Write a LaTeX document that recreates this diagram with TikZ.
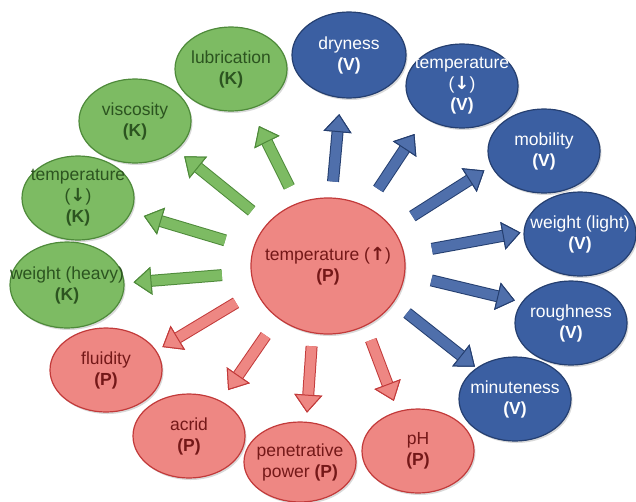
\documentclass[tikz,border=0pt]{standalone}
\usepackage{fontspec}
\setmainfont{Liberation Sans}
\newfontfamily\arrowfont{DejaVu Sans}
\usetikzlibrary{shapes.geometric,arrows.meta,shadows}

\definecolor{kfill}{HTML}{7DBB63}
\definecolor{kline}{HTML}{4E8A3A}
\definecolor{ktext}{HTML}{2C5420}
\definecolor{vfill}{HTML}{3B5FA2}
\definecolor{vline}{HTML}{253F70}
\definecolor{pfill}{HTML}{EE8783}
\definecolor{pline}{HTML}{C23A3A}
\definecolor{ptext}{HTML}{741818}

\newcommand{\down}{{\arrowfont\bfseries\fontsize{18}{21}\selectfont ↓}}
\newcommand{\up}{{\arrowfont\bfseries\fontsize{18}{21}\selectfont ↑}}

\tikzset{
  oval/.style={ellipse, inner sep=0pt, minimum width=112pt, minimum height=84pt,
    line width=1.2pt, drop shadow={shadow xshift=1.5pt, shadow yshift=-2pt, opacity=0.3}},
  kbox/.style={oval, fill=kfill, draw=kline, label={[text=ktext, align=center]center:#1}},
  vbox/.style={oval, fill=vfill, draw=vline, label={[text=white, align=center]center:#1}},
  pbox/.style={oval, fill=pfill, draw=pline, label={[text=ptext, align=center]center:#1}},
  blockarrow/.style 2 args={line width=10pt, draw=#1,
    -{Triangle[width=28pt, length=18pt, line width=1pt, fill=#1, color=#2]},
    preaction={draw=#2, line width=12pt,
      -{Triangle[width=28pt, length=18pt, line width=1pt, fill=#1, color=#2]}}},
  karrow/.style={blockarrow={kfill}{kline}},
  varrow/.style={blockarrow={vfill!90!white}{vline}},
  parrow/.style={blockarrow={pfill}{pline}}
}

\begin{document}
\begin{tikzpicture}[x=1pt, y=-1pt, font=\fontsize{17.5}{21}\selectfont]
\useasboundingbox (0,0) rectangle (636,501);

% centre
\node[pbox={temperature (\up)\\\textbf{(P)}}, minimum width=154pt, minimum height=136pt] (c) at (328,266) {};

% K group
\node[kbox={lubrication\\\textbf{(K)}}] (lub) at (231,69) {};
\node[kbox={viscosity\\\textbf{(K)}}] (visc) at (135,121) {};
\node[kbox={temperature\\(\down)\\\textbf{(K)}}] (tempK) at (78,198) {};
\node[kbox={weight (heavy)\\\textbf{(K)}}, minimum width=114pt, minimum height=86pt] (heavy) at (67,285) {};

% P group
\node[pbox={fluidity\\\textbf{(P)}}] (fluid) at (106,370) {};
\node[pbox={acrid\\\textbf{(P)}}] (acrid) at (189,436) {};
\node[pbox={penetrative\\power \textbf{(P)}}, minimum height=80pt] (pen) at (300,462) {};
\node[pbox={pH\\\textbf{(P)}}] (ph) at (418,451) {};

% V group
\node[vbox={dryness\\\textbf{(V)}}, minimum width=114pt, minimum height=86pt] (dry) at (349,55) {};
\node[vbox={temperature\\(\down)\\\textbf{(V)}}] (tempV) at (462,86) {};
\node[vbox={mobility\\\textbf{(V)}}] (mob) at (544,151) {};
\node[vbox={weight (light)\\\textbf{(V)}}] (light) at (580,234) {};
\node[vbox={roughness\\\textbf{(V)}}] (rough) at (571,323) {};
\node[vbox={minuteness\\\textbf{(V)}}] (minute) at (515,399) {};

% arrows
\draw[karrow, shorten <=18pt, shorten >=19pt] (c.116) -- (lub.-64);
\draw[karrow, shorten <=20pt, shorten >=10pt] (c.145) -- (visc.-35);
\draw[karrow, shorten <=29pt, shorten >=13pt] (c.167) -- (tempK.-15);
\draw[karrow, shorten <=29pt, shorten >=9pt] (c.185) -- (heavy.2);

\draw[parrow, shorten <=23pt, shorten >=7pt] (c.199) -- (fluid.21);
\draw[parrow, shorten <=21pt, shorten >=13pt] (c.226) -- (acrid.48);
\draw[parrow, shorten <=13pt, shorten >=9pt] (c.257) -- (pen.81);
\draw[parrow, shorten <=15pt, shorten >=11pt] (c.302) -- (ph.117);

\draw[varrow, shorten <=16pt, shorten >=16pt] (c.87) -- (dry.259);
\draw[varrow, shorten <=21pt, shorten >=19pt] (c.57) -- (tempV.221);
\draw[varrow, shorten <=23pt, shorten >=8pt] (c.30) -- (mob.196);
\draw[varrow, shorten <=28pt, shorten >=3pt] (c.9) -- (light.178);
\draw[varrow, shorten <=27pt, shorten >=7pt] (c.-6) -- (rough.157);
\draw[varrow, shorten <=17pt, shorten >=2pt] (c.-29) -- (minute.141);

\end{tikzpicture}
\end{document}
